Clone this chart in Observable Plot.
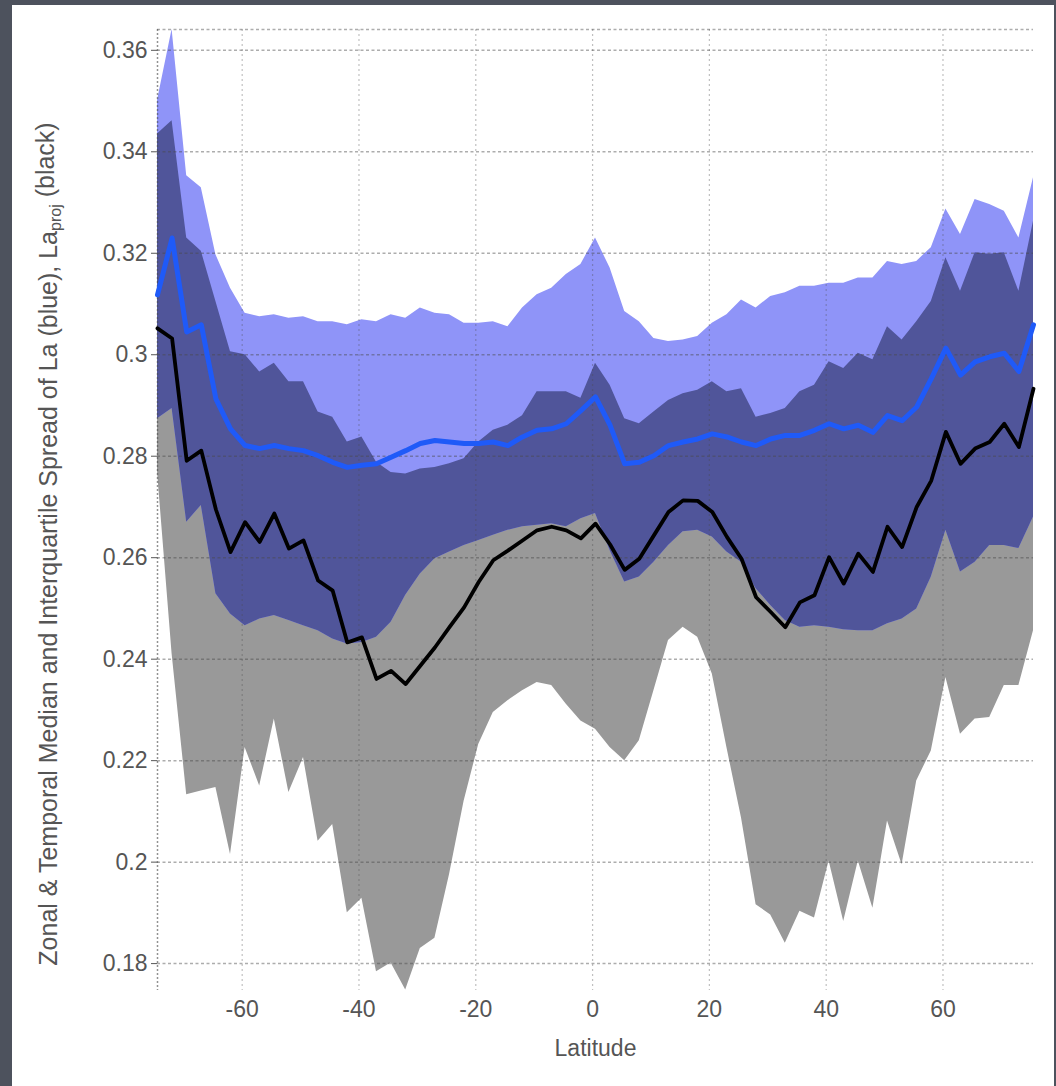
<!DOCTYPE html>
<html>
<head>
<meta charset="utf-8">
<script src="https://cdn.jsdelivr.net/npm/d3@7"></script>
<script src="https://cdn.jsdelivr.net/npm/@observablehq/plot@0.6"></script>
<style>
  html, body { margin: 0; padding: 0; }
  body { width: 1056px; height: 1086px; background: #4d525d; position: relative; overflow: hidden; }
  #panel { position: absolute; left: 12px; top: 5px; width: 1042px; height: 1081px; background: #ffffff; }
  #chart { position: absolute; left: 0; top: 0; }
</style>
</head>
<body>
<div id="panel"></div>
<div id="chart"></div>
<script>
// Latitude grid (degrees)
const lat = [-74.5, -72, -69.5, -67, -64.5, -62, -59.5, -57, -54.5, -52, -49.5, -47, -44.5, -42, -39.5, -37, -34.5, -32, -29.5, -27, -24.5, -22, -19.5, -17, -14.5, -12, -9.5, -7, -4.5, -2, 0.5,
  3, 5.5, 8, 10.5, 13, 15.5, 18, 20.5, 23, 25.5, 28, 30.5, 33, 35.5, 38, 40.5, 43, 45.5, 48, 50.5, 53, 55.5, 58, 60.5, 63, 65.5, 68, 70.5, 73, 75.5];

// La: interquartile spread (upper / lower) and median (blue)
const laUpper = [0.3501, 0.3641, 0.3353, 0.3329, 0.3197, 0.3131, 0.3082, 0.3075, 0.3079, 0.3072, 0.3075, 0.3065, 0.3065, 0.3059, 0.3069, 0.3065, 0.3079, 0.3072, 0.3092, 0.3082, 0.3079, 0.3062, 0.3062, 0.3065, 0.3055, 0.3092, 0.3118, 0.3131, 0.3158, 0.3178, 0.3230,
  0.3171, 0.3085, 0.3065, 0.3032, 0.3026, 0.3029, 0.3036, 0.3062, 0.3079, 0.3108, 0.3092, 0.3115, 0.3122, 0.3135, 0.3135, 0.3141, 0.3141, 0.3151, 0.3151, 0.3184, 0.3178, 0.3184, 0.3211, 0.3287, 0.3237, 0.3306, 0.3296, 0.3283, 0.3230, 0.3349];
const laLower = [0.2874, 0.2894, 0.2670, 0.2703, 0.2529, 0.2489, 0.2466, 0.2479, 0.2486, 0.2476, 0.2466, 0.2456, 0.2440, 0.2430, 0.2433, 0.2443, 0.2473, 0.2526, 0.2568, 0.2598, 0.2611, 0.2624, 0.2634, 0.2644, 0.2654, 0.2661, 0.2664, 0.2667, 0.2661, 0.2677, 0.2687,
  0.2614, 0.2552, 0.2562, 0.2591, 0.2624, 0.2651, 0.2654, 0.2641, 0.2611, 0.2591, 0.2539, 0.2506, 0.2476, 0.2463, 0.2466, 0.2463, 0.2458, 0.2456, 0.2456, 0.2470, 0.2479, 0.2499, 0.2562, 0.2654, 0.2572, 0.2591, 0.2624, 0.2624, 0.2618, 0.2680];
const laMedian = [0.3118, 0.3230, 0.3045, 0.3059, 0.2913, 0.2854, 0.2821, 0.2815, 0.2821, 0.2815, 0.2811, 0.2801, 0.2788, 0.2778, 0.2782, 0.2785, 0.2798, 0.2811, 0.2825, 0.2831, 0.2828, 0.2825, 0.2825, 0.2828, 0.2821, 0.2838, 0.2851, 0.2854, 0.2864, 0.2890, 0.2917,
  0.2861, 0.2785, 0.2788, 0.2801, 0.2821, 0.2828, 0.2834, 0.2844, 0.2838, 0.2828, 0.2821, 0.2834, 0.2841, 0.2841, 0.2851, 0.2864, 0.2854, 0.2861, 0.2847, 0.2880, 0.2870, 0.2897, 0.2953, 0.3013, 0.2960, 0.2986, 0.2996, 0.3003, 0.2967, 0.3059];

// La_proj: interquartile spread (upper / lower) and median (black)
const projUpper = [0.3435, 0.3461, 0.3230, 0.3204, 0.3105, 0.3006, 0.3000, 0.2966, 0.2983, 0.2947, 0.2947, 0.2887, 0.2877, 0.2828, 0.2838, 0.2788, 0.2768, 0.2765, 0.2775, 0.2778, 0.2785, 0.2795, 0.2828, 0.2851, 0.2861, 0.2880, 0.2927, 0.2927, 0.2927, 0.2914, 0.2983,
  0.2940, 0.2874, 0.2864, 0.2887, 0.2910, 0.2923, 0.2930, 0.2947, 0.2927, 0.2933, 0.2877, 0.2884, 0.2894, 0.2927, 0.2940, 0.2986, 0.2973, 0.3003, 0.2990, 0.3055, 0.3029, 0.3065, 0.3105, 0.3191, 0.3125, 0.3201, 0.3198, 0.3201, 0.3125, 0.3263];
const projLower = [0.2770, 0.2410, 0.2133, 0.2140, 0.2147, 0.2015, 0.2226, 0.2150, 0.2282, 0.2137, 0.2206, 0.2041, 0.2074, 0.1900, 0.1929, 0.1784, 0.1801, 0.1748, 0.1830, 0.1850, 0.1975, 0.2120, 0.2232, 0.2295, 0.2318, 0.2338, 0.2354, 0.2348, 0.2311, 0.2278, 0.2262,
  0.2226, 0.2200, 0.2239, 0.2338, 0.2437, 0.2463, 0.2443, 0.2371, 0.2226, 0.2087, 0.1916, 0.1896, 0.1840, 0.1903, 0.1890, 0.2002, 0.1883, 0.2002, 0.1909, 0.2081, 0.1995, 0.2160, 0.2219, 0.2364, 0.2252, 0.2282, 0.2285, 0.2348, 0.2348, 0.2456];
const projMedian = [0.3052, 0.3032, 0.2791, 0.2811, 0.2695, 0.2611, 0.2670, 0.2631, 0.2687, 0.2618, 0.2634, 0.2555, 0.2535, 0.2433, 0.2443, 0.2361, 0.2377, 0.2351, 0.2387, 0.2423, 0.2463, 0.2502, 0.2552, 0.2595, 0.2614, 0.2634, 0.2654, 0.2661, 0.2654, 0.2638, 0.2667,
  0.2626, 0.2576, 0.2598, 0.2644, 0.2690, 0.2713, 0.2712, 0.2690, 0.2641, 0.2598, 0.2522, 0.2493, 0.2463, 0.2512, 0.2526, 0.2601, 0.2549, 0.2608, 0.2572, 0.2661, 0.2621, 0.2700, 0.2752, 0.2848, 0.2785, 0.2815, 0.2828, 0.2864, 0.2818, 0.2933];

const xTicks = [-60, -40, -20, 0, 20, 40, 60];
const yTicks = [0.18, 0.2, 0.22, 0.24, 0.26, 0.28, 0.3, 0.32, 0.34, 0.36];
const xDomain = [-74.5, 75.5];
const yDomain = [0.1747, 0.3641];
const xLabel = "Latitude";
const yLabelMain = "Zonal & Temporal Median and Interquartile Spread of La (blue), La";
const yLabelSub = "proj";
const yLabelEnd = " (black)";

const rows = lat.map((d, i) => ({
  lat: d,
  laUpper: laUpper[i], laLower: laLower[i], laMedian: laMedian[i],
  projUpper: projUpper[i], projLower: projLower[i], projMedian: projMedian[i],
  // overlap of the two spreads
  ovLow: Math.max(laLower[i], projLower[i]),
  ovHigh: Math.max(Math.max(laLower[i], projLower[i]), Math.min(laUpper[i], projUpper[i]))
}));

const font = "'Liberation Sans', Arial, Helvetica, sans-serif";
const textColor = "#555555";
const gridColor = "#4a4a4a";

const chart = Plot.plot({
  width: 1056,
  height: 1086,
  marginLeft: 157,
  marginRight: 23,
  marginTop: 29,
  marginBottom: 96,
  style: { background: "transparent", fontFamily: font, fontSize: "23px", color: textColor },
  x: { domain: xDomain, ticks: xTicks, tickFormat: d => String(d), tickSize: 0, tickPadding: 10, label: null },
  y: { domain: yDomain, ticks: yTicks, tickFormat: d => String(+d.toFixed(2)), tickSize: 6, tickPadding: 4, label: null },
  marks: [
    Plot.areaY(rows, { x: "lat", y1: "projLower", y2: "projUpper", fill: "#999999" }),
    Plot.areaY(rows, { x: "lat", y1: "laLower", y2: "laUpper", fill: "#8f94f8" }),
    Plot.areaY(rows, { x: "lat", y1: "ovLow", y2: "ovHigh", fill: "#50559a" }),
    Plot.ruleY(yTicks, { stroke: gridColor, strokeOpacity: 0.45, strokeWidth: 1.5, strokeDasharray: "3,2.5" }),
    Plot.ruleX(xTicks, { stroke: gridColor, strokeOpacity: 0.35, strokeWidth: 1.2, strokeDasharray: "2,3" }),
    Plot.ruleY([yDomain[1]], { stroke: gridColor, strokeOpacity: 0.45, strokeWidth: 1.5, strokeDasharray: "3,2.5" }),
    Plot.ruleX([xDomain[0]], { stroke: gridColor, strokeOpacity: 0.6, strokeWidth: 1.5, strokeDasharray: "2,2" }),
    Plot.line(rows, { x: "lat", y: "projMedian", stroke: "#000000", strokeWidth: 3.8, curve: "linear", strokeLinejoin: "round" }),
    Plot.line(rows, { x: "lat", y: "laMedian", stroke: "#1f5af8", strokeWidth: 5, curve: "linear", strokeLinejoin: "round" }),
    Plot.text([xLabel], { frameAnchor: "bottom", dy: 58, lineAnchor: "middle", textAnchor: "middle", fontSize: 23, fill: textColor }),
    Plot.text([yLabelMain], { frameAnchor: "left", dx: -109, dy: 34, rotate: -90, textAnchor: "middle", lineAnchor: "middle", fontSize: 25, fill: textColor })
  ]
});

document.getElementById("chart").appendChild(chart);

// Add the subscript "proj" and the trailing "(black)" to the y label as tspans
const svg = d3.select(chart.tagName.toLowerCase() === "svg" ? chart : chart.querySelector("svg"));
svg.selectAll("text").each(function () {
  const t = d3.select(this);
  if (t.text() === yLabelMain) {
    t.text(null);
    t.append("tspan").text(yLabelMain);
    t.append("tspan").attr("dy", "0.3em").attr("font-size", "16px").text(yLabelSub);
    t.append("tspan").attr("dy", "-0.3em").text(yLabelEnd);
    t.attr("text-anchor", "middle");
  }
});
svg.selectAll("[aria-label='y-axis'] line, [aria-label='y-axis tick'] path").attr("stroke", textColor);
</script>
</body>
</html>
